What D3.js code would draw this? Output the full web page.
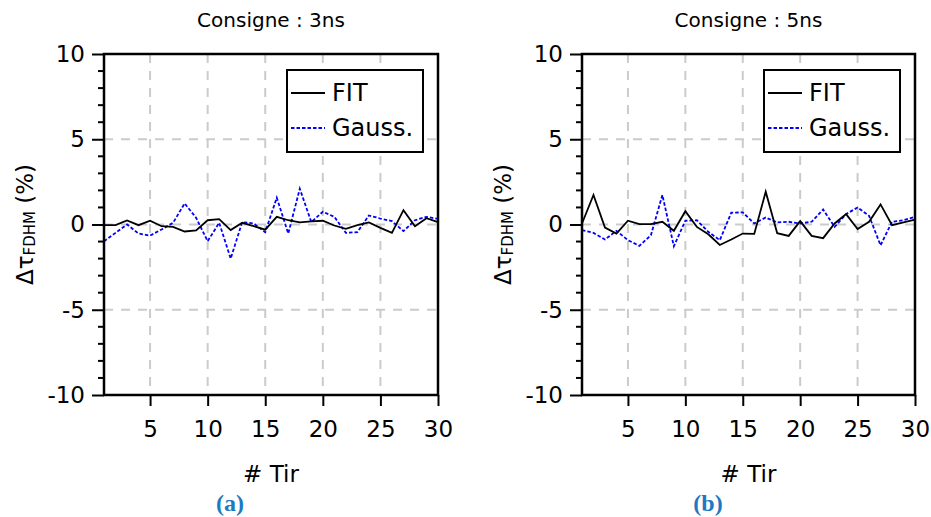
<!DOCTYPE html>
<html><head><meta charset="utf-8">
<script src="https://cdn.jsdelivr.net/npm/d3@7/dist/d3.min.js"></script>
<style>body{margin:0;background:#fff}svg{display:block}</style>
</head><body>
<script>
const shots = d3.range(1, 31);
const fitA = [-0.04,-0.04,0.24,-0.04,0.22,-0.1,-0.14,-0.41,-0.35,0.25,0.31,-0.33,0.1,-0.1,-0.3,0.45,0.25,0.12,0.18,0.22,-0.06,-0.25,-0.04,0.12,-0.2,-0.49,0.84,-0.1,0.37,0.14];
const gaussA = [-0.98,-0.49,0,-0.53,-0.65,-0.29,0.1,1.24,0.39,-0.98,0.1,-2.0,0.14,0.06,-0.45,1.57,-0.53,2.1,0.14,0.75,0.45,-0.49,-0.45,0.53,0.35,0.2,-0.39,0.25,0.45,0.33];
const fitB = [0.06,1.73,-0.18,-0.53,0.22,0.02,0.02,0.16,-0.37,0.78,-0.14,-0.57,-1.2,-0.88,-0.53,-0.55,1.92,-0.51,-0.67,0.2,-0.67,-0.8,0.06,0.61,-0.27,0.16,1.18,-0.04,0.12,0.29];
const gaussB = [-0.33,-0.49,-0.88,-0.37,-0.92,-1.25,-0.63,1.73,-1.27,0.22,0.25,-0.43,-0.92,0.69,0.71,0.06,0.41,0.12,0.16,0.06,0.16,0.88,-0.14,0.61,1.0,0.51,-1.22,0.16,0.25,0.45];
const titles = ["Consigne : 3ns", "Consigne : 5ns"];
const captions = ["(a)", "(b)"];
const xTicks = [5, 10, 15, 20, 25, 30];
const yTicks = [-10, -5, 0, 5, 10];
const legendLabels = ["FIT", "Gauss."];

const W = 931, H = 517;
const svg = d3.select("body").append("svg").attr("width", W).attr("height", H);
const font = "DejaVu Sans, Verdana, sans-serif";

const panels = [
  {left: 104, right: 438, fit: fitA, gauss: gaussA},
  {left: 582, right: 915, fit: fitB, gauss: gaussB}
];
const plotTop = 54, plotBottom = 395;

panels.forEach((p, k) => {
  const x = d3.scaleLinear().domain([1, 30]).range([p.left, p.right]);
  const y = d3.scaleLinear().domain([-10, 10]).range([plotBottom, plotTop]);
  const g = svg.append("g");

  // grid
  g.selectAll(".vg").data(xTicks.filter(t => t < 30)).join("line")
    .attr("x1", d => x(d)).attr("x2", d => x(d)).attr("y1", plotTop).attr("y2", plotBottom)
    .attr("stroke", "#cbcbcb").attr("stroke-width", 2).attr("stroke-dasharray", "9,8");
  g.selectAll(".hg").data([-5, 0, 5]).join("line")
    .attr("x1", p.left).attr("x2", p.right).attr("y1", d => y(d)).attr("y2", d => y(d))
    .attr("stroke", "#cbcbcb").attr("stroke-width", 2).attr("stroke-dasharray", "9,8");

  // lines
  const line = vals => d3.line().x((d, i) => x(shots[i])).y(d => y(d))(vals);
  g.append("path").attr("d", line(p.gauss)).attr("fill", "none")
    .attr("stroke", "#0000ff").attr("stroke-width", 1.8).attr("stroke-dasharray", "3.5,2");
  g.append("path").attr("d", line(p.fit)).attr("fill", "none")
    .attr("stroke", "#000").attr("stroke-width", 1.8);

  // frame
  g.append("rect").attr("x", p.left).attr("y", plotTop).attr("width", p.right - p.left)
    .attr("height", plotBottom - plotTop).attr("fill", "none").attr("stroke", "#000").attr("stroke-width", 2.5);

  // y axis
  const ya = g.append("g").attr("transform", `translate(${p.left},0)`)
    .call(d3.axisLeft(y).tickValues(yTicks).tickFormat(d => String(d)).tickSize(12).tickPadding(7));
  ya.select(".domain").remove();
  ya.selectAll("line").attr("stroke-width", 2);
  ya.selectAll("text").attr("font-family", font).attr("font-size", 23).attr("fill", "#000");
  g.selectAll(".ymin").data(d3.range(-10, 11).filter(v => v % 5 !== 0)).join("line")
    .attr("x1", p.left - 6).attr("x2", p.left).attr("y1", d => y(d)).attr("y2", d => y(d))
    .attr("stroke", "#000").attr("stroke-width", 2);

  // x axis
  const xa = g.append("g").attr("transform", `translate(0,${plotBottom})`)
    .call(d3.axisBottom(x).tickValues(xTicks).tickFormat(d => String(d)).tickSize(11).tickPadding(15));
  xa.select(".domain").remove();
  xa.selectAll("line").attr("stroke-width", 2);
  xa.selectAll("text").attr("font-family", font).attr("font-size", 23).attr("fill", "#000");

  const cx = (p.left + p.right) / 2;
  // title
  g.append("text").attr("x", cx).attr("y", 27).attr("text-anchor", "middle")
    .attr("font-family", font).attr("font-size", 20).text(titles[k]);
  // x label
  g.append("text").attr("x", cx).attr("y", 482).attr("text-anchor", "middle")
    .attr("font-family", font).attr("font-size", 23).text("# Tir");
  // caption
  g.append("text").attr("x", p.left + 126).attr("y", 511).attr("text-anchor", "middle")
    .attr("font-family", "Liberation Serif, serif").attr("font-weight", "bold").attr("font-size", 24)
    .attr("fill", "#2079c0").text(captions[k]);
  // y label
  const yl = g.append("text").attr("transform", `translate(${p.left - 71},${(plotTop + plotBottom) / 2}) rotate(-90)`)
    .attr("text-anchor", "middle").attr("font-family", font).attr("font-size", 23);
  yl.append("tspan").text("Δτ");
  yl.append("tspan").attr("font-size", 15).attr("dy", 2).text("FDHM");
  yl.append("tspan").attr("dy", -2).text(" (%)");

  // legend
  const lx = p.right - 151, ly = 70;
  const lg = g.append("g").attr("transform", `translate(${lx},${ly})`);
  lg.append("rect").attr("width", 136).attr("height", 82).attr("fill", "#fff")
    .attr("stroke", "#000").attr("stroke-width", 2);
  legendLabels.forEach((lab, j) => {
    const yy = 23 + j * 35;
    lg.append("line").attr("x1", 4).attr("x2", 38).attr("y1", yy).attr("y2", yy)
      .attr("stroke", j ? "#0000ff" : "#000").attr("stroke-width", 1.8)
      .attr("stroke-dasharray", j ? "3.5,2" : null);
    lg.append("text").attr("x", 45).attr("y", yy + 8).attr("font-family", font)
      .attr("font-size", 24).text(lab);
  });
});
</script>
</body></html>
